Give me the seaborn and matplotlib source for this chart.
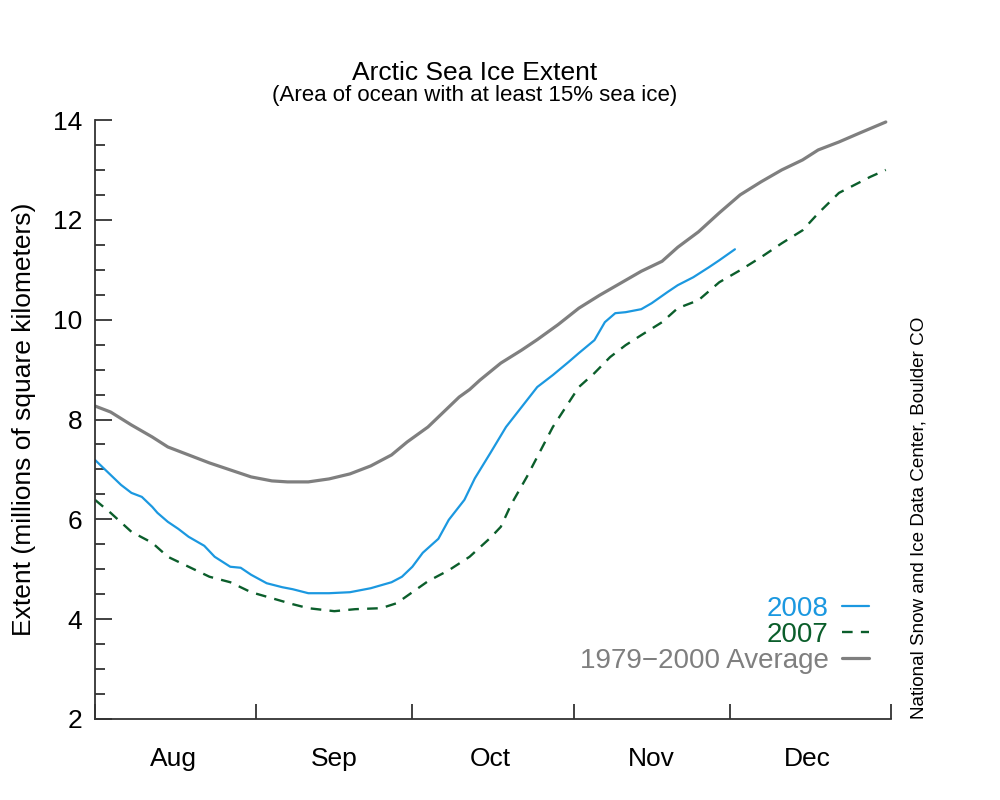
import numpy as np
import pandas as pd
import matplotlib
matplotlib.use("Agg")
import matplotlib.pyplot as plt
import matplotlib.dates as mdates
from matplotlib.ticker import MultipleLocator, NullFormatter
import seaborn as sns

# ---- data (days since Aug 1, extent in millions of km^2) ----
start_date = "2008-08-01"
end_date = "2009-01-01"

avg_days = [0, 3, 7, 11, 14, 18, 22, 26, 30, 34, 37, 41, 45, 49, 53, 57, 60, 64,
            66, 68, 70, 72, 74, 78, 82, 85, 89, 93, 97, 101, 105, 109, 112, 116,
            120, 124, 128, 132, 136, 139, 143, 147, 152]
avg_vals = [8.27, 8.15, 7.89, 7.65, 7.45, 7.29, 7.13, 6.99, 6.85, 6.77, 6.75, 6.75,
            6.81, 6.91, 7.07, 7.29, 7.55, 7.85, 8.05, 8.25, 8.45, 8.60, 8.79, 9.13,
            9.39, 9.60, 9.90, 10.23, 10.49, 10.73, 10.97, 11.17, 11.45, 11.76,
            12.14, 12.50, 12.76, 13.00, 13.20, 13.40, 13.56, 13.74, 13.96]

y2008_days = [0, 1, 3, 5, 7, 9, 11, 12, 14, 16, 18, 21, 23, 26, 28, 30, 33, 36, 38,
              41, 45, 49, 53, 57, 59, 61, 63, 66, 68, 71, 73, 76, 79, 82, 85, 88,
              91, 93, 96, 98, 100, 102, 105, 107, 110, 112, 115, 118, 120, 123]
y2008_vals = [7.19, 7.09, 6.89, 6.69, 6.53, 6.45, 6.25, 6.13, 5.95, 5.81, 5.65,
              5.47, 5.25, 5.05, 5.03, 4.89, 4.72, 4.64, 4.60, 4.52, 4.52, 4.54,
              4.62, 4.74, 4.85, 5.05, 5.33, 5.61, 5.99, 6.39, 6.82, 7.33, 7.85,
              8.25, 8.65, 8.89, 9.15, 9.33, 9.59, 9.95, 10.13, 10.15, 10.21, 10.33,
              10.55, 10.69, 10.85, 11.05, 11.19, 11.41]

y2007_days = [0, 3, 7, 11, 14, 18, 22, 26, 30, 34, 38, 41, 46, 50, 55, 58, 61, 64,
              68, 72, 76, 78, 80, 83, 85, 88, 91, 93, 96, 99, 102, 105, 109, 112,
              116, 120, 124, 128, 132, 136, 139, 143, 146, 149, 152]
y2007_vals = [6.39, 6.13, 5.75, 5.53, 5.25, 5.05, 4.85, 4.74, 4.54, 4.42, 4.30,
              4.22, 4.16, 4.20, 4.22, 4.32, 4.54, 4.76, 4.98, 5.25, 5.63, 5.85,
              6.30, 6.85, 7.25, 7.85, 8.33, 8.65, 8.93, 9.25, 9.49, 9.69, 9.95,
              10.23, 10.39, 10.75, 10.99, 11.25, 11.53, 11.79, 12.13, 12.54,
              12.70, 12.86, 13.00]

series_labels = ["2008", "2007", "1979\u22122000 Average"]
series_colors = ["#1b98e0", "#0b5e2b", "#7f7f7f"]

title_text = "Arctic Sea Ice Extent"
subtitle_text = "(Area of ocean with at least 15% sea ice)"
ylabel_text = "Extent (millions of square kilometers)"
credit_text = "National Snow and Ice Data Center, Boulder CO"


def to_dates(days):
    return pd.Timestamp(start_date) + pd.to_timedelta(days, unit="D")


df2008 = pd.DataFrame({"date": to_dates(y2008_days), "extent": y2008_vals})
df2007 = pd.DataFrame({"date": to_dates(y2007_days), "extent": y2007_vals})
dfavg = pd.DataFrame({"date": to_dates(avg_days), "extent": avg_vals})

sns.set_style("white")
plt.rcParams["font.family"] = ["Liberation Sans", "DejaVu Sans"]
plt.rcParams["axes.unicode_minus"] = True
plt.rcParams["text.color"] = "black"
plt.rcParams["axes.labelcolor"] = "black"
plt.rcParams["xtick.labelcolor"] = "black"
plt.rcParams["ytick.labelcolor"] = "black"

fig = plt.figure(figsize=(10, 8), dpi=100)
ax = fig.add_axes([0.095, 0.10125, 0.796, 0.74875])

sns.lineplot(data=df2008, x="date", y="extent", ax=ax, color=series_colors[0],
             linewidth=1.6, label=series_labels[0])
sns.lineplot(data=df2007, x="date", y="extent", ax=ax, color=series_colors[1],
             linewidth=1.7, label=series_labels[1], dashes=False)
ax.lines[-1].set_dashes([4.5, 3.5])
sns.lineplot(data=dfavg, x="date", y="extent", ax=ax, color=series_colors[2],
             linewidth=2.3, label=series_labels[2])
for ln in ax.lines:
    ln.set_solid_joinstyle("round")
    ln.set_dash_joinstyle("round")

ax.set_xlim(pd.Timestamp(start_date), pd.Timestamp(end_date))
ax.set_ylim(2, 14)

for side in ["top", "right"]:
    ax.spines[side].set_visible(False)
for side in ["left", "bottom"]:
    ax.spines[side].set_color("#333333")
    ax.spines[side].set_linewidth(1.3)

ax.yaxis.set_major_locator(MultipleLocator(2))
ax.yaxis.set_minor_locator(MultipleLocator(0.5))
ax.tick_params(axis="y", which="major", direction="in", length=12, width=1.3,
               color="#333333", labelsize=19, pad=9, left=True, labelcolor="black")
ax.tick_params(axis="y", which="minor", direction="in", length=7, width=1.3,
               color="#333333", left=True)

ax.xaxis.set_major_locator(mdates.MonthLocator())
ax.xaxis.set_major_formatter(NullFormatter())
ax.xaxis.set_minor_locator(mdates.MonthLocator(bymonthday=16))
ax.xaxis.set_minor_formatter(mdates.DateFormatter("%b"))
ax.tick_params(axis="x", which="major", direction="in", length=11, width=1.3,
               color="#333333", bottom=True)
ax.tick_params(axis="x", which="minor", length=0, labelsize=19, pad=20,
               bottom=True, labelcolor="black")

ax.set_xlabel("")
ax.set_ylabel(ylabel_text, fontsize=19, labelpad=12, color="black")

handles, labels = ax.get_legend_handles_labels()
leg = ax.legend(handles, labels, loc="lower right", bbox_to_anchor=(0.972, 0.075),
                frameon=False, markerfirst=False, labelcolor="linecolor",
                fontsize=20, handlelength=0.95, handletextpad=0.5,
                labelspacing=0.0, borderaxespad=0, borderpad=0)

fig.text(0.475, 0.909, title_text, ha="center", va="center", fontsize=19)
fig.text(0.475, 0.880, subtitle_text, ha="center", va="center", fontsize=16)
fig.text(0.919, 0.10125, credit_text, rotation=90, ha="center", va="bottom",
         fontsize=13.6)

fig.savefig("out.png", dpi=100, facecolor="white")
